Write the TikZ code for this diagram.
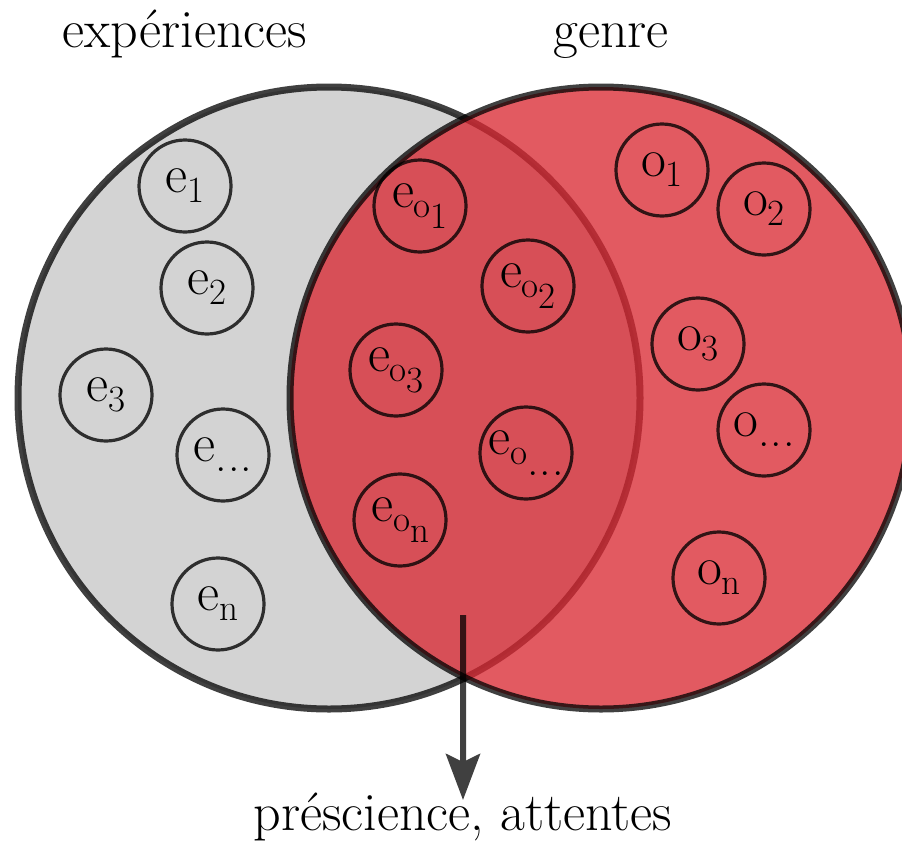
\documentclass[tikz,border=0pt]{standalone}
\usepackage{fontspec}
\usetikzlibrary{arrows.meta}
\definecolor{grayfill}{RGB}{211,211,211}
\definecolor{redfill}{RGB}{217,40,50}
\tikzset{
  bigborder/.style={draw=black, draw opacity=0.75, line width=7pt},
  elem/.style={circle, draw=black, draw opacity=0.78, line width=3.2pt, minimum size=92pt, inner sep=0pt,
    font=\fontsize{54}{54}\selectfont},
  lbl/.style={anchor=base, font=\fontsize{54}{60}\selectfont, inner sep=0pt},
}
\newcommand{\sbs}[1]{\raisebox{-10pt}{\fontsize{37}{37}\selectfont #1}}
\newcommand{\ssbs}[1]{\raisebox{-11pt}{#1}}
\newcommand{\bigdots}{{\fontsize{46}{46}\selectfont.\kern1pt.\kern1pt.}}
\begin{document}
\begin{tikzpicture}[x=1pt,y=-1pt]
\useasboundingbox (0,0) rectangle (902,846);
% left set
\fill[grayfill] (329,398) circle (311);
\draw[bigborder] (329,398) circle (311);
% right set
\fill[redfill, fill opacity=0.77] (601,398) circle (311);
\draw[bigborder] (601,398) circle (311);
% labels
\node[lbl] (lexp) at (185,47) {expériences};
\node[lbl] (lgen) at (611,47) {genre};
\node[lbl] (lres) at (463,830) {préscience, attentes};
% elements of experiences
\node[elem] (e1) at (185,186) {e\sbs{1}};
\node[elem] (e2) at (207,288) {e\sbs{2}};
\node[elem] (e3) at (106,395) {e\sbs{3}};
\node[elem] (edots) at (223,455) {e\sbs{\bigdots}};
\node[elem] (en) at (218,604) {e\sbs{n}};
% shared elements
\node[elem] (eo1) at (420,206) {e\sbs{o\ssbs{1}}};
\node[elem] (eo2) at (528,286) {e\sbs{o\ssbs{2}}};
\node[elem] (eo3) at (396,370) {e\sbs{o\ssbs{3}}};
\node[elem] (eodots) at (526,453) {e\sbs{o\ssbs{\bigdots}}};
\node[elem] (eon) at (400,520) {e\sbs{o\ssbs{n}}};
% elements of genre
\node[elem] (o1) at (662,170) {o\sbs{1}};
\node[elem] (o2) at (764,209) {o\sbs{2}};
\node[elem] (o3) at (698,344) {o\sbs{3}};
\node[elem] (odots) at (764,430) {o\sbs{\bigdots}};
\node[elem] (on) at (719,578) {o\sbs{n}};
% arrow
\coordinate (astart) at (463,615);
\coordinate (aend) at (463,800);
\begin{scope}[transparency group, opacity=0.75]
\draw[black, line width=6pt,
  -{Stealth[length=46pt, width=34pt, inset=8pt]}]
  (astart) -- (aend);
\end{scope}
\end{tikzpicture}
\end{document}
